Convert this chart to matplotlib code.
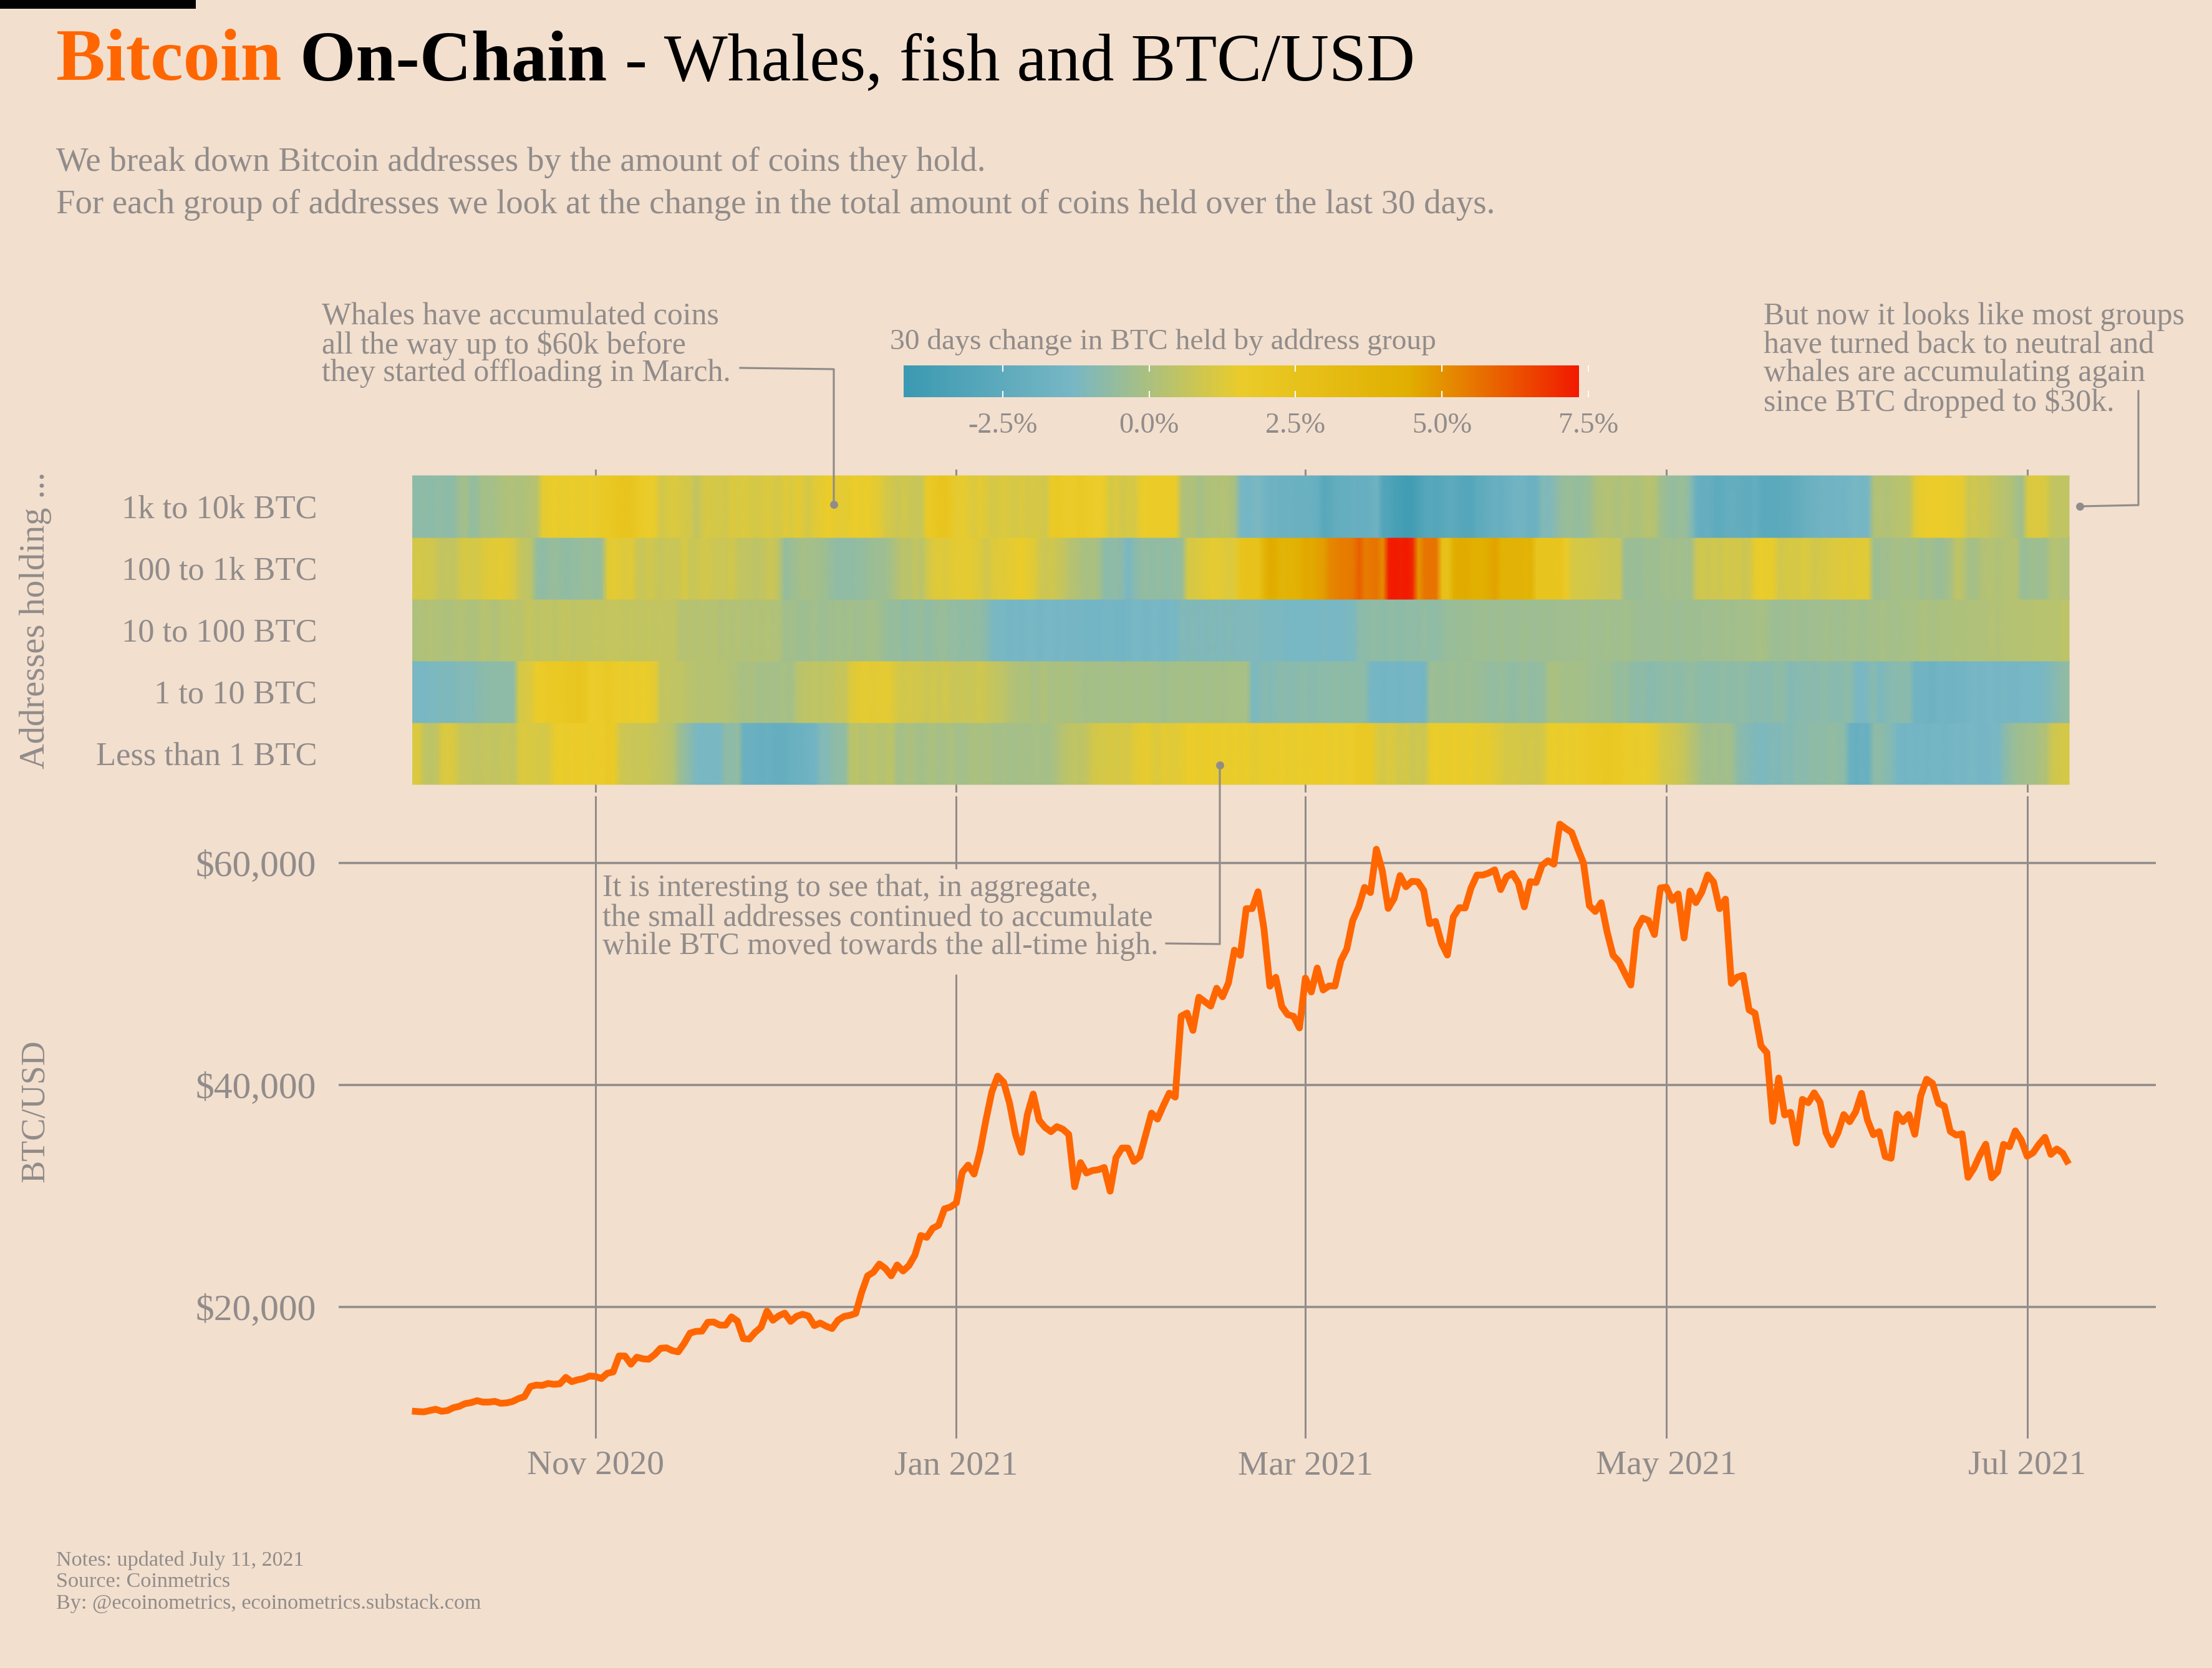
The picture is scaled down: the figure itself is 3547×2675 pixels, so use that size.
import numpy as np
import pandas as pd
import matplotlib
matplotlib.use("Agg")
import matplotlib.pyplot as plt
import matplotlib.dates as mdates
from matplotlib.colors import LinearSegmentedColormap, Normalize
from matplotlib.lines import Line2D
from matplotlib.patches import Rectangle

# ==========================================
# DATA
# ==========================================

btc_oct = [10619, 10575, 10549, 10670, 10786, 10601, 10668, 10925, 11050, 11296, 11384, 11555, 11426, 11429, 11495, 11322,
           11358, 11483, 11742, 11916, 12823, 12965, 12931, 13108, 13031, 13075, 13654, 13271, 13437, 13546, 13781]
btc_nov = [13737, 13550, 14023, 14145, 15590, 15580, 14840, 15479, 15332, 15290, 15701, 16276, 16317, 16068, 15955,
           16716, 17645, 17804, 17817, 18621, 18642, 18370, 18364, 19107, 18732, 17150, 17108, 17717, 18177, 19625]
btc_dec = [18802, 19201, 19445, 18699, 19155, 19345, 19191, 18321, 18553, 18264, 18058, 18803, 19142, 19246, 19417, 21310,
           22805, 23137, 23869, 23477, 22803, 23783, 23241, 23735, 24664, 26437, 26272, 27084, 27362, 28840, 29001]
btc_jan = [29374, 32127, 32782, 31971, 33992, 36824, 39371, 40797, 40254, 38356, 35566, 33922, 37316, 39187, 36825, 36178,
           35792, 36248, 36019, 35547, 30825, 33005, 32067, 32289, 32366, 32569, 30432, 33466, 34316, 34317, 33114]
btc_feb = [33533, 35510, 37472, 36926, 38144, 39266, 38903, 46196, 46481, 44918, 47909, 47504, 47105, 48717, 47945, 49199,
           52149, 51679, 55888, 55888, 57412, 54087, 48899, 49705, 47093, 46339, 46188, 45137]
btc_mar = [49631, 48378, 50538, 48561, 48927, 48912, 51206, 52246, 54824, 56008, 57805, 57332, 61243, 59302, 55907, 56804,
           58870, 57858, 58346, 58313, 57523, 54529, 54738, 52774, 51704, 55137, 55973, 55950, 57750, 58917, 58918]
btc_apr = [59095, 59384, 57603, 58758, 59057, 58192, 56048, 58323, 58245, 59793, 60204, 59893, 63503, 63109, 62757, 61334,
           60006, 56150, 55633, 56425, 53787, 51690, 51125, 50047, 49004, 54021, 55033, 54824, 53555, 57750]
btc_may = [57828, 56631, 57213, 53241, 57473, 56428, 57380, 58928, 58280, 55883, 56750, 49150, 49716, 49880, 46760, 46456,
           43537, 42909, 36720, 40627, 37294, 37536, 34770, 38705, 38402, 39294, 38436, 35697, 34616, 35678, 37332]
btc_jun = [36693, 37576, 39248, 36856, 35520, 35796, 33552, 33402, 37389, 36702, 37334, 35552, 39020, 40516, 40144, 38349,
           38092, 35820, 35484, 35600, 31678, 32505, 33682, 34663, 31637, 32186, 34649, 34434, 35867, 35040]
btc_jul = [33572, 33897, 34668, 35287, 33746, 34235, 33855, 32877]

# 30 days change in % for each address group, one value per day
change_1k_10k = [
    -.7, -.8, -.7, -.8, -.7, -.7, -.8, -.7, -.3, -.2, -.6, -.5, -.1, -.2, -.1, 0, .1, .1, 0, .1,
    .2, .3, 1.4, 1.5, 1.6, 1.5, 1.5, 1.6, 1.5, 1.5, 1.6, 1.5, 1.8, 1.9, 2.1, 2.2, 2.3, 2.2, 1.9, 1.7,
    1.6, 1.5, .9, 1.1, 1.2, 1.1, 1.0, .9, .5, .9, 1.1, 1.0, 1.0, .9, 1.2, 1.1, 1.2, 1.1, 1.0, 1.1,
    1.2, 1.1, 1.0, 1.3, 1.1, 1.4, 1.2, 1.0, 1.3, 1.4, 1.6, 1.5, 1.4, 1.4, 1.5, 1.6, 1.5, 1.6, 1.4, 1.3,
    1.0, .9, .8, .9, .8, .7, .7, 1.8, 2.0, 2.2, 2.3, 2.0, 1.4, 1.5, 1.3, 1.2, 1.4, 1.2, 1.0, 1.1,
    1.2, 1.1, 1.0, 1.2, 1.0, 1.1, 1.0, .9, 1.7, 1.8, 1.7, 1.6, 1.7, 1.8, 1.7, 1.6, 1.6, 1.5, 1.0, 1.2,
    .9, 1.1, 1.0, 1.5, 1.6, 1.7, 1.6, 1.7, 1.7, 1.6, .2, 0, .1, -.2, 0, .1, .1, .2, .1, -.1,
    -1.3, -1.4, -1.3, -1.2, -1.5, -1.8, -1.7, -1.9, -1.8, -1.9, -2.0, -1.9, -2.0, -2.1, -2.8, -2.6, -2.3, -2.2, -2.2, -2.0,
    -2.1, -2.1, -2.0, -1.7, -3.0, -3.2, -3.5, -3.7, -3.9, -3.8, -3.4, -3.0, -2.8, -3.0, -2.8, -2.6, -2.6, -2.8, -3.0, -2.9,
    -2.5, -2.4, -2.2, -2.0, -2.1, -1.9, -1.7, -1.6, -1.7, -1.9, -1.8, -1.0, -1.1, -.9, -.6, -.5, -.5, -.6, -.5, -.4,
    0, .1, .2, .1, 0, .2, .1, 0, .2, .3, .2, -.3, -.5, -.6, -.5, -.5, -.9, -2.0, -2.2, -2.1,
    -2.4, -2.5, -2.3, -2.2, -2.3, -2.4, -2.4, -2.2, -2.6, -2.7, -2.7, -2.6, -2.5, -2.4, -2.3, -2.1, -1.9, -1.8, -1.7, -1.6,
    -1.7, -1.5, -1.6, -1.4, -1.3, -1.4, -1.3, .1, .2, .1, .2, .3, .3, .4, 1.3, 1.5, 1.6, 1.6, 1.6, 1.6,
    1.5, 1.5, 1.4, .8, .9, .7, .8, .5, .4, .3, .2, -.1, -.3, 1.1, 1.2, 1.2, 1.1, .6, .5, .5, .5]
change_100_1k = [
    .9, 1.0, .9, .9, .8, .5, .6, .5, .9, 1.1, 1.0, 1.0, 1.2, 1.3, 1.3, 1.4, 1.3, 1.2, .7, .5,
    .4, -.6, -.7, -.6, -.5, -.6, -.7, -.6, -.6, -.5, -.5, -.6, -.4, 1.3, 1.4, 1.3, 1.2, 1.3, .8, .7,
    .9, .8, .6, .8, .7, .8, 1.1, .7, .8, .9, .9, .8, .8, .8, .9, .6, .5, .5, .4, .5,
    .7, .8, .3, -.6, -.4, -.3, -.1, -.2, -.2, -.3, -.4, -.6, -.7, -.7, -.7, -.6, -.6, -.5, -.4, -.4,
    -.3, -.1, .2, .4, .3, .6, .3, .9, 1.2, 1.3, 1.2, 1.3, 1.4, 1.4, 1.4, 1.3, 1.2, .9, 1.2, 1.3,
    1.3, 1.4, 1.5, 1.6, 1.4, 1.3, .9, .8, .9, .7, .6, .3, .2, 0, -.1, 0, -.2, -.8, -.8, -.7,
    -.9, -1.3, -.9, -.7, -.6, -.7, -.6, -.7, -.7, -.6, -.6, 1.0, 1.1, 1.2, 1.3, 1.4, 1.4, 1.3, 1.2, 1.3,
    2.4, 2.6, 2.5, 2.6, 3.9, 4.5, 4.4, 3.8, 4.0, 4.1, 4.3, 4.6, 4.5, 4.7, 4.8, 5.2, 5.3, 5.4, 5.4, 5.5,
    6.0, 5.4, 5.5, 5.6, 5.1, 7.2, 7.3, 7.2, 7.3, 7.1, 4.9, 5.5, 5.6, 5.6, 2.8, 2.6, 4.4, 4.5, 4.5, 4.4,
    4.3, 4.4, 4.5, 4.7, 4.1, 4.0, 4.0, 4.1, 3.9, 4.0, 2.4, 2.3, 2.4, 2.2, 2.3, 1.7, 1.1, 1.0, 1.0, .9,
    .9, .8, .8, .7, .7, -.5, -.4, -.5, -.4, -.3, -.4, -.3, -.2, -.3, -.2, -.3, -.3, .8, .9, .8,
    .9, .8, 1.0, .9, 1.0, .8, .9, 1.5, 1.6, 1.5, 1.5, .9, 1.0, 1.1, 1.0, 1.2, 1.1, .9, 1.0, 1.1,
    1.2, 1.2, 1.3, 1.2, 1.3, 1.3, 1.3, -.4, -.3, -.3, -.2, -.1, -.2, -.2, -.1, -.4, -.2, -.3, -.5, -.3,
    -.1, .5, .3, -.1, -.2, .1, .2, .2, .1, .2, .2, .3, -.5, -.4, -.3, -.4, -.3, .2, .2, .1, .1]
change_10_100 = [
    0, .1, .1, .2, .1, .1, 0, .1, .2, .1, 0, .1, .3, .2, .1, .3, .3, .4, .3, .5,
    .6, .4, .5, .5, .4, .5, .6, .4, .5, .5, .5, .6, .5, .6, .6, .6, .5, .6, .5, .5,
    .6, .5, .6, .5, .6, .3, .2, .3, .2, .3, .2, .3, .1, .2, .1, .2, .1, .1, .2, .1,
    .2, .1, .1, -.3, -.2, -.3, -.4, -.3, -.2, -.4, -.3, -.3, -.2, -.3, -.2, -.3, -.3, -.2, -.2, -.3,
    -.5, -.6, -.5, -.7, -.6, -.6, -.5, -.7, -.6, -.5, -.5, -.6, -.6, -.7, -.6, -.7, -.7, -.9, -1.2, -1.3,
    -1.3, -1.4, -1.3, -1.4, -1.3, -1.3, -1.4, -1.3, -1.3, -1.4, -1.3, -1.4, -1.4, -1.4, -1.5, -1.5, -1.5, -1.4, -1.4, -1.5,
    -1.5, -1.4, -1.3, -1.3, -1.4, -1.3, -1.3, -1.4, -1.3, -1.3, -1.0, -1.1, -1.0, -1.1, -1.1, -1.0, -1.1, -1.1, -1.0, -1.1,
    -1.1, -1.1, -1.1, -1.1, -1.2, -1.2, -1.2, -1.2, -1.3, -1.3, -1.3, -1.3, -1.3, -1.3, -1.2, -1.3, -1.3, -1.3, -1.2, -1.2,
    -.8, -.8, -.7, -.7, -.8, -.7, -.7, -.8, -.7, -.7, -.7, -.6, -.7, -.7, -.6, -.5, -.5, -.4, -.5, -.4,
    -.4, -.3, -.4, -.4, -.3, -.4, -.4, -.4, -.3, -.4, -.4, -.3, -.4, -.3, -.3, -.3, -.3, -.3, -.2, -.3,
    -.3, -.3, -.2, -.3, -.3, -.2, -.3, -.4, -.4, -.4, -.4, -.4, -.3, -.4, -.4, -.4, -.3, -.4, -.3, -.3,
    -.3, -.3, -.2, -.3, -.2, -.2, -.2, -.1, -.1, -.2, -.4, -.4, -.4, -.3, -.3, -.4, -.3, -.3, -.3, -.2,
    -.3, -.3, -.3, -.2, -.2, -.3, -.2, -.2, -.1, -.1, -.2, -.2, -.1, -.1, -.1, 0, 0, -.1, 0, 0,
    0, .1, 0, .1, .1, .1, .1, .2, .1, .2, .2, .2, .3, .2, .3, .3, .3, .3, .3, .4, .4]
change_1_10 = [
    -1.2, -1.3, -1.3, -1.2, -1.2, -1.1, -1.2, -1.1, -1.0, -1.0, -1.0, -.9, -.8, -.8, -.7, -.8, -.7, -.8, 1.0, 1.1,
    1.2, 1.6, 1.7, 1.8, 1.9, 1.9, 2.0, 2.1, 2.2, 2.1, 1.6, 1.6, 1.7, 1.8, 1.7, 1.6, 1.5, 1.6, 1.5, 1.6,
    1.5, 1.4, .5, .6, .5, .5, .4, .3, .3, .2, .3, .2, .2, .2, .1, 0, -.1, 0, -.1, -.2,
    -.1, -.2, -.1, -.1, -.2, .3, .4, .4, .5, .4, .5, .5, .7, .6, 1.2, 1.3, 1.4, 1.4, 1.3, 1.4,
    1.4, 1.3, 1.0, .9, 1.0, .9, .9, .8, .9, .8, .9, .8, .7, .8, .7, .8, .9, .7, .6, .5,
    .4, .2, .1, 0, .1, -.1, 0, .1, -.1, 0, -.1, 0, -.1, -.1, -.2, -.1, -.2, -.2, -.1, -.2,
    -.2, -.1, -.2, -.2, -.1, -.2, -.2, -.3, -.2, -.2, -.1, -.2, -.2, -.1, -.2, -.2, -.1, -.2, -.1, -.1,
    -.1, -.1, -1.2, -1.1, -.9, -1.0, -.9, -.8, -.9, -.9, -.8, -.8, -.9, -.8, -.8, -.8, -.7, -.8, -.7, -.8,
    -.7, -.8, -1.4, -1.4, -1.5, -1.4, -1.4, -1.5, -1.4, -1.4, -1.4, -1.5, -.4, -.4, -.5, -.4, -.4, -.5, -.4, -.4,
    -.5, -.5, -.6, -.6, -.5, -.6, -.7, -.6, -.5, -.7, -.6, -.6, -.1, 0, -.1, -.2, -.1, -.2, -.2, -.3,
    -.3, -.4, -.3, -.5, -.6, -.5, -.7, -.8, -.7, -.9, -.8, -.8, -.7, -.7, -.8, -.7, -.6, -.7, -.8, -.8,
    -.8, -.7, -.7, -.8, -.7, -.7, -.8, -.9, -.8, -.9, -.8, -.7, -.8, -1.0, -.9, -.9, -.8, -.9, -.8, -.8,
    -.9, -.9, -.8, -.8, -1.2, -1.3, -1.1, -.9, -1.2, -1.0, -.9, -.9, -.8, -.9, -1.7, -1.6, -1.7, -1.8, -1.6, -1.6,
    -1.7, -1.6, -1.6, -1.4, -1.3, -1.4, -1.3, -1.3, -1.4, -1.3, -1.4, -1.4, -1.3, -1.3, -1.3, -1.3, -1.2, -1.0, -.9, -.7, -.7]
change_less_1 = [
    1.1, 1.2, .5, .4, .5, 1.1, 1.2, 1.1, .7, .6, .6, .5, .6, .6, .5, .6, .7, .5, 1.1, 1.2,
    1.1, 1.1, 1.0, 1.1, 1.5, 1.6, 1.5, 1.6, 1.7, 1.6, 1.5, 1.7, 1.6, 1.8, 1.7, .9, .8, .8, .7, .8,
    .7, .6, .5, .4, .3, -.3, -.6, -.9, -1.2, -1.3, -1.2, -1.3, -1.2, -.7, -.8, -.6, -2.0, -1.9, -2.0, -2.1,
    -2.0, -2.1, -2.2, -2.1, -2.0, -1.9, -1.8, -1.7, -1.6, -1.0, -1.0, -.8, -.7, -.7, .3, .4, .2, .3, .4, .2,
    .3, .4, -.2, -.1, 0, -.1, -.2, -.1, 0, -.2, -.1, 0, -.2, -.2, -.1, 0, -.1, 0, -.1, -.2,
    -.1, -.2, -.2, -.1, -.2, -.1, -.1, -.2, -.1, .1, .3, .4, .5, .4, .6, .9, 1.0, 1.0, 1.1, 1.0,
    1.1, 1.0, 1.3, 1.4, 1.5, 1.3, 1.2, 1.4, 1.3, 1.3, 1.4, 1.6, 1.6, 1.5, 1.7, 1.6, 1.5, 1.6, 1.5, 1.6,
    1.5, 1.6, 1.4, 1.5, 1.5, 1.7, 1.5, 1.6, 1.5, 1.5, 1.6, 1.5, 1.6, 1.7, 1.6, 1.5, 1.6, 1.5, 1.6, 1.6,
    1.9, 1.8, 1.9, 1.2, 1.0, 1.2, 1.1, .9, 1.0, .8, .9, .8, 1.5, 1.6, 1.5, 1.5, 1.6, 1.5, 1.5, 1.6,
    1.4, 1.5, 1.4, 1.3, 1.2, 1.0, 1.1, 1.0, .9, 1.0, .9, 1.0, 1.5, 1.6, 1.5, 1.6, 1.5, 1.6, 1.7, 1.8,
    1.9, 1.9, 2.0, 1.9, 1.9, 1.6, 1.7, 1.5, 1.6, 1.5, 1.4, 1.1, 1.0, .9, .8, .6, .3, .1, -.2, -.3,
    -.2, -.3, -.2, -.3, -.8, -.9, -1.0, -1.1, -1.2, -1.1, -1.0, -1.1, -.9, -1.0, -.8, -.9, -.8, -.7, -.8, -.7,
    -.6, -.7, -.8, -1.9, -2.1, -1.9, -2.0, -.8, -.7, -.9, -1.0, -1.4, -1.5, -1.4, -1.5, -1.4, -1.5, -1.4, -1.4, -1.5,
    -1.4, -1.3, -1.4, -1.3, -1.3, -1.4, -1.4, -1.3, -1.3, -.9, -.6, -.4, -.3, -.2, -.2, 0, .1, .8, .9, 1.0, 1.0]

group_labels = ["Less than 1 BTC", "1 to 10 BTC", "10 to 100 BTC", "100 to 1k BTC", "1k to 10k BTC"]
group_rows = [change_less_1, change_1_10, change_10_100, change_100_1k, change_1k_10k]

month_ticks = ["2020-11-01", "2021-01-01", "2021-03-01", "2021-05-01", "2021-07-01"]
month_labels = ["Nov 2020", "Jan 2021", "Mar 2021", "May 2021", "Jul 2021"]
price_ticks = [20000, 40000, 60000]
price_labels = ["$20,000", "$40,000", "$60,000"]
colorbar_ticks = [-2.5, 0.0, 2.5, 5.0, 7.5]
colorbar_labels = ["-2.5%", "0.0%", "2.5%", "5.0%", "7.5%"]
zissou = ["#3B9AB2", "#78B7C5", "#EBCC2A", "#E1AF00", "#F21A00"]

# ==========================================
# STYLE
# ==========================================

W, H = 3547, 2675
BG = "#F2DFCE"
GREY = "#918C8A"
ORANGE = "#FF6600"
plt.rcParams["font.family"] = ["Liberation Serif", "DejaVu Serif"]

fig = plt.figure(figsize=(W / 300, H / 300), dpi=300, facecolor=BG)


def px_axes(x0, y0, x1, y1):
    return fig.add_axes([x0 / W, 1 - y1 / H, (x1 - x0) / W, (y1 - y0) / H])


def label(x, y, s, size, color=GREY, **kw):
    kw.setdefault("va", "center")
    return fig.text(x / W, 1 - y / H, s, fontsize=size, color=color, **kw)


def leader(xs, ys):
    fig.add_artist(Line2D([x / W for x in xs], [1 - y / H for y in ys], color=GREY, lw=0.75, zorder=6))
    fig.add_artist(Line2D([xs[-1] / W], [1 - ys[-1] / H], marker="o", ms=3.1, color=GREY, mew=0, zorder=6))


# ==========================================
# SCALES
# ==========================================

btc = btc_oct + btc_nov + btc_dec + btc_jan + btc_feb + btc_mar + btc_apr + btc_may + btc_jun + btc_jul
days = pd.date_range("2020-10-01", periods=len(btc), freq="D")
x_days = mdates.date2num(days)
xlim = (x_days[0] - 12.4, x_days[-1] + 14.75)
tick_x = mdates.date2num(pd.to_datetime(month_ticks))

cmap = LinearSegmentedColormap.from_list("zissou", zissou)
norm = Normalize(-4.19, 7.33)

# ==========================================
# HEATMAP
# ==========================================

ax_heat = px_axes(543, 753, 3457, 1271)
ax_heat.set_xlim(xlim)
ax_heat.set_ylim(-13 / 99, 5 + 10 / 99)
ax_heat.patch.set_visible(False)
for s in ax_heat.spines.values():
    s.set_visible(False)
ax_heat.set_xticks(tick_x)
ax_heat.set_xticklabels([])
ax_heat.set_yticks([])
ax_heat.tick_params(length=0)
ax_heat.grid(axis="x", color=GREY, lw=0.72)
ax_heat.set_axisbelow(True)

for i, row in enumerate(group_rows):
    xx = x_days[:len(row)] + 0.1
    X, Y = np.meshgrid(xx, [i, i + 1])
    C = np.vstack([row, row])
    ax_heat.pcolormesh(X, Y, C, cmap=cmap, norm=norm, shading="gouraud", zorder=2)
    ax_heat.text(-0.0118, i + 0.45, group_labels[i], transform=ax_heat.get_yaxis_transform(),
                 ha="right", va="center", fontsize=12.6, color=GREY)

# ==========================================
# PRICE LINE
# ==========================================

ax = px_axes(543, 1277, 3457, 2307)
ax.set_xlim(xlim)
ax.set_ylim(20000 - (2307 - 2096) / 17.8 * 1000, 60000 + (1384 - 1277) / 17.8 * 1000)
ax.patch.set_visible(False)
for s in ax.spines.values():
    s.set_visible(False)
ax.set_xticks(tick_x)
ax.set_xticklabels(month_labels)
ax.set_yticks(price_ticks)
ax.set_yticklabels(price_labels)
ax.tick_params(length=0, labelcolor=GREY)
ax.tick_params(axis="x", pad=4.5, labelsize=13.3)
ax.tick_params(axis="y", pad=8.6, labelsize=14.3)
ax.grid(axis="x", color=GREY, lw=0.72)
ax.grid(axis="y", color=GREY, lw=0.85)
ax.set_axisbelow(True)
# the note sits on a background label that hides the grid behind it
fig.add_artist(Rectangle((958 / W, 1 - 1563 / H), 912 / W, 169 / H, transform=fig.transFigure,
                         facecolor=BG, edgecolor="none", zorder=3))
ax.set_zorder(1)
ax.plot(x_days, btc, color=ORANGE, lw=2.6, solid_joinstyle="round", solid_capstyle="butt", zorder=4)

# ==========================================
# COLOUR BAR
# ==========================================

cax = px_axes(1449, 586, 2549, 637)
cax.patch.set_visible(False)
for s in cax.spines.values():
    s.set_visible(False)
cax.imshow(np.linspace(norm.vmin, norm.vmax, 256).reshape(1, -1), cmap=cmap, norm=norm, aspect="auto",
           extent=(norm.vmin, norm.vmax, 0, 1))
cax.set_xlim(-4.19, 7.52)
cax.set_ylim(0, 1)
cax.set_yticks([])
cax.set_xticks(colorbar_ticks)
cax.set_xticklabels(colorbar_labels)
cax.tick_params(axis="x", length=0, labelsize=11.1, labelcolor=GREY, pad=6)
cax.vlines(colorbar_ticks, 0, 0.2, color="white", lw=0.5)
cax.vlines(colorbar_ticks, 0.8, 1, color="white", lw=0.5)

# ==========================================
# TEXT
# ==========================================

fig.add_artist(Rectangle((0, 1 - 14 / H), 314 / W, 14 / H, transform=fig.transFigure, facecolor="black", edgecolor="none"))

# title runs are placed one after the other
renderer = fig.canvas.get_renderer()
x_run = 90
for s, col, wt, size in [("Bitcoin ", ORANGE, "bold", 28.4), ("On-Chain ", "black", "bold", 27.6),
                         ("- Whales, fish and BTC/USD", "black", "normal", 25.9)]:
    t = label(x_run, 128, s.replace(" ", "\u00a0"), size, color=col, fontweight=wt, va="baseline")
    x_run = t.get_window_extent(renderer).x1

label(90, 261, "We break down Bitcoin addresses by the amount of coins they hold.", 13.15)
label(90, 328, "For each group of addresses we look at the change in the total amount of coins held over the last 30 days.", 13.15)

label(1427, 549, "30 days change in BTC held by address group", 11.4)

label(57, 995, "Addresses holding ...", 13.6, rotation=90, ha="center")
label(57, 1782, "BTC/USD", 13, rotation=90, ha="center")

note_size = 11.95
for y, s in zip([508, 554, 599], ["Whales have accumulated coins", "all the way up to $60k before", "they started offloading in March."]):
    label(516, y, s, note_size)
for y, s in zip([1425, 1473, 1518], ["It is interesting to see that, in aggregate,", "the small addresses continued to accumulate",
                                     "while BTC moved towards the all-time high."]):
    label(966, y, s, note_size, zorder=5)
for y, s in zip([508, 554, 599, 646], ["But now it looks like most groups", "have turned back to neutral and",
                                       "whales are accumulating again", "since BTC dropped to $30k."]):
    label(2828, y, s, note_size)

leader([1187, 1337, 1337], [590, 592, 809])
leader([1870, 1956, 1956], [1513, 1514, 1227])
leader([3429, 3429, 3335], [627, 810, 812])

for y, s in zip([2503, 2537, 2571], ["Notes: updated July 11, 2021", "Source: Coinmetrics",
                                     "By: @ecoinometrics, ecoinometrics.substack.com"]):
    label(90, y, s, 8.2)

fig.savefig("out.png", dpi=300, facecolor=BG)
